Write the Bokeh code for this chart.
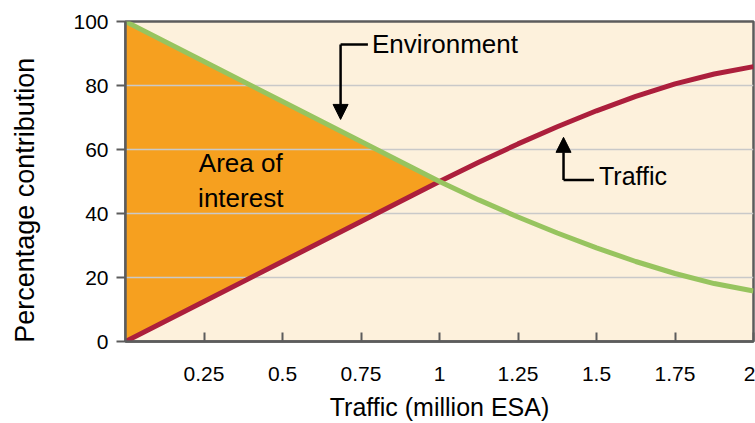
from bokeh.plotting import figure
from bokeh.models import FixedTicker, Arrow, NormalHead, Range1d
from bokeh.core.properties import value
from bokeh.embed import file_html
from bokeh.resources import INLINE

# ---- data ----
traffic_x = [0, 0.25, 0.5, 0.75, 1.0, 1.125, 1.25, 1.375, 1.5, 1.625, 1.75, 1.875, 2.0]
traffic_pct = [0, 12.5, 25, 37.5, 50, 56, 61.75, 67.1, 72.1, 76.6, 80.5, 83.6, 85.9]
environment_pct = [100, 87.5, 75, 62.5, 50, 44.25, 38.9, 33.9, 29.25, 25.0, 21.25, 18.1, 15.8]

area_x = [0, 0.25, 0.5, 0.75, 1.0]
area_lower = [0, 12.5, 25, 37.5, 50]
area_upper = [100, 87.5, 75, 62.5, 50]

x_ticks = [0.25, 0.5, 0.75, 1.0, 1.25, 1.5, 1.75, 2.0]
x_tick_labels = ["0.25", "0.5", "0.75", "1", "1.25", "1.5", "1.75", "2"]
y_ticks = [0, 20, 40, 60, 80, 100]

FONT = "Liberation Sans"
AXIS_COL = "#5c5c5c"

p = figure(width=755, height=423, x_range=Range1d(0, 2), y_range=Range1d(0, 100),
           output_backend="svg", toolbar_location=None,
           min_border_left=125, min_border_right=2, min_border_top=21, min_border_bottom=82)

p.background_fill_color = "#FDF1DC"
p.border_fill_color = "white"
p.outline_line_color = AXIS_COL
p.outline_line_width = 2.5

# area of interest (drawn beneath grid)
p.varea(x=area_x, y1=area_lower, y2=area_upper, fill_color="#F6A01F", level="image")

# grid
p.xgrid.visible = False
p.ygrid.ticker = FixedTicker(ticks=[20, 40, 60, 80])
p.ygrid.grid_line_color = "#c9c9c9"
p.ygrid.grid_line_width = 1.5

# lines
p.line(traffic_x, traffic_pct, line_color="#AC1F3C", line_width=5)
p.line(traffic_x, environment_pct, line_color="#97C45F", line_width=5)

# axes
xa = p.xaxis[0]
xa.ticker = FixedTicker(ticks=x_ticks)
xa.major_label_overrides = {t: l for t, l in zip(x_ticks, x_tick_labels)}
xa.major_tick_in = 9
xa.major_tick_out = 0
xa.minor_tick_line_color = None
xa.axis_line_color = AXIS_COL
xa.axis_line_width = 2.5
xa.major_tick_line_color = AXIS_COL
xa.major_tick_line_width = 2
xa.major_label_text_font = FONT
xa.major_label_text_font_size = "21px"
xa.major_label_text_color = "black"
xa.major_label_standoff = 25
xa.axis_label = "Traffic (million ESA)"
xa.axis_label_text_font = FONT
xa.axis_label_text_font_size = "25px"
xa.axis_label_text_font_style = "normal"
xa.axis_label_text_color = "black"
xa.axis_label_standoff = 9

ya = p.yaxis[0]
ya.ticker = FixedTicker(ticks=y_ticks)
ya.major_tick_in = 0
ya.major_tick_out = 9
ya.minor_tick_line_color = None
ya.axis_line_color = AXIS_COL
ya.axis_line_width = 2.5
ya.major_tick_line_color = AXIS_COL
ya.major_tick_line_width = 2
ya.major_label_text_font = FONT
ya.major_label_text_font_size = "21px"
ya.major_label_text_color = "black"
ya.major_label_standoff = 8
# trailing no-break spaces nudge the centred title down, as it sits in the reference
ya.axis_label = "Percentage contribution" + "\u00a0" * 5
ya.axis_label_text_font = FONT
ya.axis_label_text_font_size = "27px"
ya.axis_label_text_font_style = "normal"
ya.axis_label_text_color = "black"
ya.axis_label_standoff = 30

# annotations
TXT_SHIFT = 2.8
p.text(x=[0.367], y=[52.9 + TXT_SHIFT], text=["Area of"], text_font=value(FONT), text_font_size="26px",
       text_align="center", text_baseline="alphabetic", text_color="black")
p.text(x=[0.367], y=[42.2 + TXT_SHIFT], text=["interest"], text_font=value(FONT), text_font_size="26px",
       text_align="center", text_baseline="alphabetic", text_color="black")

p.text(x=[0.785], y=[90.1 + TXT_SHIFT], text=["Environment"], text_font=value(FONT), text_font_size="26px",
       text_align="left", text_baseline="alphabetic", text_color="black")
p.segment(x0=[0.685], y0=[92.8], x1=[0.772], y1=[92.8], line_color="black", line_width=2.5)
p.add_layout(Arrow(x_start=0.685, y_start=92.8, x_end=0.685, y_end=69.4,
                   line_color="black", line_width=2.5,
                   end=NormalHead(size=15, fill_color="black", line_color="black", line_width=1)))

p.text(x=[1.508], y=[49.0 + TXT_SHIFT], text=["Traffic"], text_font=value(FONT), text_font_size="25px",
       text_align="left", text_baseline="alphabetic", text_color="black")
p.segment(x0=[1.395], y0=[50.5], x1=[1.492], y1=[50.5], line_color="black", line_width=2.5)
p.add_layout(Arrow(x_start=1.395, y_start=50.5, x_end=1.395, y_end=63.8,
                   line_color="black", line_width=2.5,
                   end=NormalHead(size=15, fill_color="black", line_color="black", line_width=1)))

open("out.html", "w").write(file_html(p, INLINE))
